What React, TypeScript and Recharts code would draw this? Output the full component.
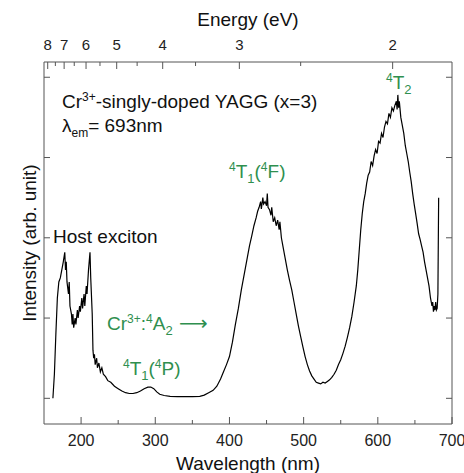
import React from 'react'
import { LineChart, Line, XAxis, YAxis } from 'recharts'

// wavelength (nm) and PLE intensity
const wavelength = [
  162, 164, 166, 168, 170, 172, 174, 176, 178, 179, 180, 181, 183, 184, 185, 187, 188, 189, 190, 192,
  193, 195, 196, 198, 199, 201, 202, 204, 205, 207, 208, 210, 212, 213, 215, 216, 217, 218, 219, 221,
  222, 224, 226, 228, 230, 233, 236, 240, 245, 250, 255, 260, 265, 270, 275, 280, 285, 290, 294, 298,
  302, 306, 312, 320, 330, 340, 350, 360, 366, 372, 378, 383, 388, 392, 396, 400, 404, 408, 412, 416,
  420, 424, 427, 430, 433, 436, 438, 440, 442, 443, 445, 446, 448, 450, 451, 452, 454, 456, 457, 459,
  461, 463, 465, 467, 468, 470, 472, 475, 478, 481, 484, 487, 490, 493, 496, 499, 502, 505, 508, 511,
  514, 517, 520, 523, 526, 529, 532, 535, 538, 541, 544, 547, 550, 553, 556, 559, 562, 565, 568, 571,
  573, 575, 577, 579, 581, 583, 585, 587, 589, 591, 593, 595, 597, 599, 601, 603, 605, 607, 609, 611,
  613, 615, 617, 619, 621, 623, 625, 626, 627, 628, 629, 631, 633, 635, 637, 639, 641, 643, 645, 647,
  649, 651, 653, 655, 657, 659, 661, 663, 665, 667, 669, 671, 673, 674, 675, 676, 677, 678, 679, 680,
  681, 682
]
const intensity = [
  0.0, 0.3, 0.8, 1.25, 1.45, 1.5, 1.6, 1.7, 1.82, 1.6, 1.7, 1.45, 1.3, 1.45, 1.15, 1.05, 0.92, 1.05, 0.88, 1.0,
  0.92, 1.1, 1.0, 1.15, 1.08, 1.25, 1.12, 1.3, 1.15, 1.4, 1.3, 1.6, 1.82, 1.5, 1.05, 0.6, 0.5, 0.55, 0.42, 0.5,
  0.38, 0.44, 0.33, 0.38, 0.3, 0.27, 0.22, 0.2, 0.15, 0.12, 0.09, 0.07, 0.06, 0.06, 0.07, 0.09, 0.12, 0.14, 0.14, 0.12,
  0.08, 0.05, 0.035, 0.025, 0.02, 0.02, 0.02, 0.025, 0.04, 0.07, 0.1, 0.15, 0.24, 0.33, 0.42, 0.52, 0.7, 0.92, 1.12, 1.35,
  1.55, 1.75, 1.9, 2.02, 2.15, 2.25, 2.33, 2.38, 2.45, 2.36, 2.5, 2.42, 2.45, 2.4, 2.55, 2.38, 2.35, 2.28, 2.38, 2.2,
  2.25, 2.15, 2.22, 2.1, 2.2, 2.0, 1.9, 1.75, 1.6, 1.47, 1.35, 1.2, 1.05, 0.9, 0.77, 0.64, 0.52, 0.42, 0.34, 0.28,
  0.24, 0.2, 0.19, 0.18, 0.2, 0.19, 0.21, 0.23, 0.26, 0.3, 0.35, 0.42, 0.48, 0.56, 0.65, 0.76, 0.88, 1.02, 1.2, 1.4,
  1.6, 1.85, 2.1, 2.3, 2.45, 2.55, 2.68, 2.78, 2.82, 2.95, 2.9, 3.02, 3.1, 3.05, 3.2, 3.18, 3.3, 3.25, 3.38, 3.45,
  3.42, 3.55, 3.5, 3.62, 3.58, 3.65, 3.7, 3.6, 3.78, 3.62, 3.7, 3.5, 3.4, 3.3, 3.15, 3.05, 2.95, 2.82, 2.7, 2.55,
  2.42, 2.3, 2.18, 2.05, 1.98, 1.9, 1.82, 1.7, 1.6, 1.5, 1.4, 1.25, 1.15, 1.2, 1.08, 1.15, 1.1, 1.2, 1.1, 1.12,
  1.3, 2.5
]

const wavelengthTicks = [200, 250, 300, 350, 400, 450, 500, 550, 600, 650, 700]
const energyTicks = [8, 7.5, 7, 6.5, 6, 5.5, 5, 4.5, 4, 3.5, 3, 2.5, 2]
const intensityTicks = [0, 1, 2, 3, 4]

const data = wavelength.map((w, i) => ({ w, v: intensity[i] }))

const FONT = '"Liberation Sans", Arial, sans-serif'
const GREEN = '#2f8f4f'
const AXIS = '#555'

const BottomTick = (props: any) => {
  const { x, y, payload } = props
  const major = payload.value % 100 === 0
  return (
    <g>
      <line x1={x} y1={y} x2={x} y2={y - (major ? 7 : 4)} stroke={AXIS} />
      {major && (
        <text x={x} y={y + 22} textAnchor="middle" fontSize={16} fill="#222" fontFamily={FONT}>
          {payload.value}
        </text>
      )}
    </g>
  )
}

const TopTick = (props: any) => {
  const { x, y, payload } = props
  const e = 1240 / payload.value
  const major = Math.abs(e - Math.round(e)) < 1e-6
  return (
    <g>
      <line x1={x} y1={y} x2={x} y2={y + (major ? 7 : 4)} stroke={AXIS} />
      {major && (
        <text x={x} y={y - 12} textAnchor="middle" fontSize={15} fill="#222" fontFamily={FONT}>
          {Math.round(e)}
        </text>
      )}
    </g>
  )
}

const SideTick = (props: any) => {
  const { x, y, dir } = props
  return <line x1={x} y1={y} x2={x + dir * 6} y2={y} stroke={AXIS} />
}

const Sup = ({ children }: { children: string }) => (
  <tspan dy={-7} fontSize={12}>{children}</tspan>
)

export default function App() {
  return (
    <div style={{ position: 'absolute', left: 0, top: 0, background: '#fff' }}>
      <LineChart width={464} height={473} data={data} margin={{ top: 0, right: 0, bottom: 0, left: 0 }}>
        <XAxis
          xAxisId="bottom"
          dataKey="w"
          type="number"
          domain={[150, 700]}
          ticks={wavelengthTicks}
          interval={0}
          height={49}
          tickSize={0}
          tickMargin={0}
          tickLine={false}
          axisLine={{ stroke: AXIS }}
          tick={(p: any) => <BottomTick {...p} />}
          allowDataOverflow
        />
        <XAxis
          xAxisId="top"
          orientation="top"
          dataKey="w"
          type="number"
          domain={[150, 700]}
          ticks={energyTicks.map(e => 1240 / e)}
          interval={0}
          height={62}
          tickSize={0}
          tickMargin={0}
          tickLine={false}
          axisLine={{ stroke: AXIS }}
          tick={(p: any) => <TopTick {...p} />}
          allowDataOverflow
        />
        <YAxis
          yAxisId="left"
          type="number"
          domain={[-0.32, 4.19]}
          ticks={intensityTicks}
          interval={0}
          width={44}
          tickSize={0}
          tickMargin={0}
          tickLine={false}
          axisLine={{ stroke: AXIS }}
          tick={(p: any) => <SideTick {...p} dir={1} />}
          allowDataOverflow
        />
        <YAxis
          yAxisId="right"
          orientation="right"
          type="number"
          domain={[-0.32, 4.19]}
          ticks={intensityTicks}
          interval={0}
          width={12}
          tickSize={0}
          tickMargin={0}
          tickLine={false}
          axisLine={{ stroke: AXIS }}
          tick={(p: any) => <SideTick {...p} dir={-1} />}
          allowDataOverflow
        />
        <Line
          xAxisId="bottom"
          yAxisId="left"
          dataKey="v"
          type="linear"
          stroke="#000"
          strokeWidth={1.2}
          dot={false}
          isAnimationActive={false}
        />

        <g fontFamily={FONT} fontSize={19}>
          <text x={248} y={26} textAnchor="middle" fill="#111">Energy (eV)</text>
          <text x={248} y={470} textAnchor="middle" fill="#111">Wavelength (nm)</text>
          <text x={36} y={243} textAnchor="middle" fill="#111" transform="rotate(-90 36 243)">
            Intensity (arb. unit)
          </text>
          <text x={62} y={108} fill="#111">
            Cr<Sup>3+</Sup><tspan dy={7}>-singly-doped YAGG (x=3)</tspan>
          </text>
          <text x={62} y={132} fill="#111">
            λ<tspan dy={5} fontSize={12}>em</tspan><tspan dy={-5}>= 693nm</tspan>
          </text>
          <text x={53} y={243} fill="#111">Host exciton</text>
          <text x={386} y={89} fill={GREEN}>
            <Sup>4</Sup><tspan dy={7}>T</tspan><tspan dy={5} fontSize={13}>2</tspan>
          </text>
          <text x={229} y={178} fill={GREEN}>
            <Sup>4</Sup><tspan dy={7}>T</tspan><tspan dy={5} fontSize={13}>1</tspan>
            <tspan dy={-5}>(</tspan><Sup>4</Sup><tspan dy={7}>F)</tspan>
          </text>
          <text x={107} y={330} fill={GREEN}>
            Cr<Sup>3+</Sup><tspan dy={7}>:</tspan><Sup>4</Sup><tspan dy={7}>A</tspan>
            <tspan dy={5} fontSize={13}>2</tspan>
            <tspan dy={-5} fontFamily="DejaVu Sans" fontSize={20}> ⟶</tspan>
          </text>
          <text x={123} y={375} fill={GREEN}>
            <Sup>4</Sup><tspan dy={7}>T</tspan><tspan dy={5} fontSize={13}>1</tspan>
            <tspan dy={-5}>(</tspan><Sup>4</Sup><tspan dy={7}>P)</tspan>
          </text>
        </g>
      </LineChart>
    </div>
  )
}
